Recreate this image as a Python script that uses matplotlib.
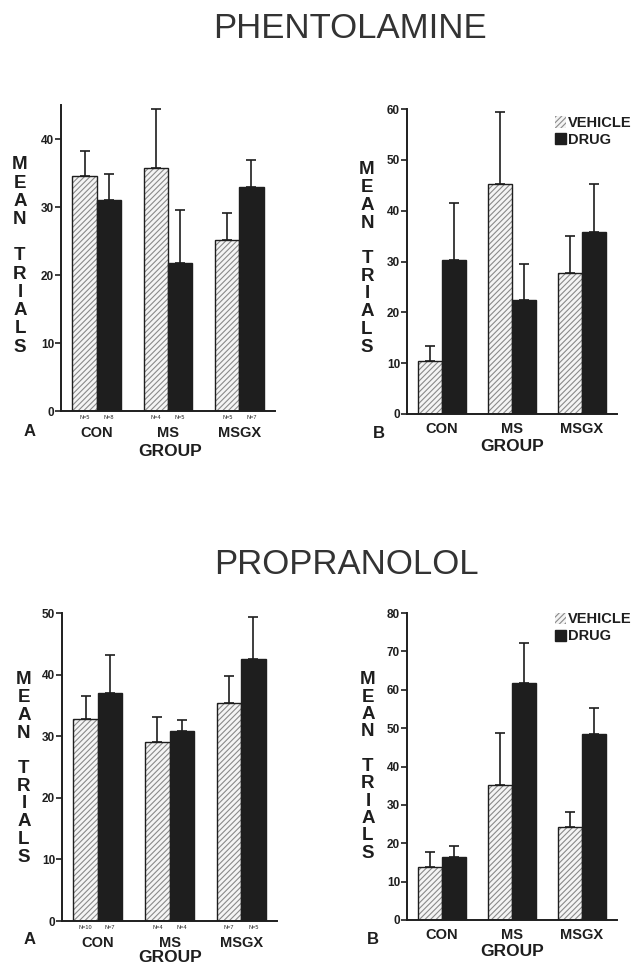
import matplotlib.pyplot as plt
import numpy as np

W, H = 642, 966

groups = ["CON", "MS", "MSGX"]

# phentolamine
phen_a_vehicle = [34.5, 35.8, 25.1]
phen_a_vehicle_err = [3.8, 8.6, 4.0]
phen_a_drug = [31.1, 21.8, 32.9]
phen_a_drug_err = [3.7, 7.8, 4.0]
phen_a_n = [("N=5", "N=8"), ("N=4", "N=5"), ("N=5", "N=7")]

phen_b_vehicle = [10.5, 45.3, 27.8]
phen_b_vehicle_err = [2.8, 14.1, 7.3]
phen_b_drug = [30.3, 22.5, 35.9]
phen_b_drug_err = [11.2, 7.0, 9.4]

# propranolol
prop_a_vehicle = [32.8, 29.0, 35.4]
prop_a_vehicle_err = [3.8, 4.1, 4.4]
prop_a_drug = [37.0, 30.9, 42.5]
prop_a_drug_err = [6.2, 1.7, 6.8]
prop_a_n = [("N=10", "N=7"), ("N=4", "N=4"), ("N=7", "N=5")]

prop_b_vehicle = [13.7, 35.3, 24.3]
prop_b_vehicle_err = [3.9, 13.4, 3.8]
prop_b_drug = [16.5, 61.8, 48.5]
prop_b_drug_err = [2.9, 10.5, 6.8]

plt.rcParams["font.family"] = ["Liberation Sans", "DejaVu Sans"]
plt.rcParams["hatch.linewidth"] = 0.8
INK = "#1e1e1e"
HATCH_BG = "#f4f4f4"
HATCH_COL = "#8a8a8a"

fig = plt.figure(figsize=(W / 100, H / 100), dpi=100)
fig.patch.set_facecolor("white")


def px_axes(l, r, b, t):
    return fig.add_axes([l / W, 1 - b / H, (r - l) / W, (b - t) / H])


def panel(ax, veh, veh_err, drug, drug_err, ymax, ystep, nlab=None, legend_y=None):
    x = np.arange(len(groups))
    w = 0.34
    # hatched vehicle bars: hatch first, then black outline
    ax.bar(x - w / 2, veh, w, color=HATCH_BG, edgecolor=HATCH_COL, hatch="//////",
           linewidth=0, zorder=2)
    ax.bar(x - w / 2, veh, w, fill=False, edgecolor=INK, linewidth=1.0, zorder=3)
    ax.bar(x + w / 2, drug, w, color=INK, edgecolor=INK, linewidth=1.0, zorder=3)
    ax.errorbar(x - w / 2, veh, yerr=[np.zeros(3), veh_err], fmt="none",
                ecolor=INK, elinewidth=1.2, capsize=3.5, capthick=1.2, zorder=1)
    ax.errorbar(x + w / 2, drug, yerr=[np.zeros(3), drug_err], fmt="none",
                ecolor=INK, elinewidth=1.2, capsize=3.5, capthick=1.2, zorder=1)
    ax.set_xlim(-0.5, 2.5)
    ax.set_ylim(0, ymax)
    ax.set_yticks(np.arange(0, ymax + 1, ystep))
    ax.tick_params(axis="y", direction="out", length=4, width=1.2, color=INK,
                   labelsize=8.5, pad=1)
    for lab in ax.get_yticklabels():
        lab.set_fontweight("bold")
        lab.set_color(INK)
    ax.set_xticks(x, groups)
    ax.tick_params(axis="x", length=0, labelsize=10.5,
                   pad=11 if nlab else 6, labelcolor=INK)
    for lab in ax.get_xticklabels():
        lab.set_fontweight("bold")
    for s in ("top", "right"):
        ax.spines[s].set_visible(False)
    for s in ("left", "bottom"):
        ax.spines[s].set_color(INK)
        ax.spines[s].set_linewidth(1.4)
    if nlab:
        for i, (a, b) in enumerate(nlab):
            ax.text(i - w / 2, -0.012, a, transform=ax.get_xaxis_transform(),
                    ha="center", va="top", fontsize=4, color=INK)
            ax.text(i + w / 2, -0.012, b, transform=ax.get_xaxis_transform(),
                    ha="center", va="top", fontsize=4, color=INK)
    if legend_y is not None:
        h1 = plt.Rectangle((0, 0), 1, 1, facecolor=HATCH_BG, edgecolor=HATCH_COL,
                           hatch="//////", linewidth=0)
        h2 = plt.Rectangle((0, 0), 1, 1, facecolor=INK, edgecolor=INK)
        leg = ax.legend([h1, h2], ["VEHICLE", "DRUG"], loc="upper left",
                        bbox_to_anchor=(0.64, legend_y), frameon=False,
                        handlelength=0.8, handleheight=0.8, handletextpad=0.1,
                        labelspacing=0.2, prop={"size": 10.5, "weight": "bold"})
        for t in leg.get_texts():
            t.set_color(INK)


def ylabel(xc, ytop, ybot):
    letters = list("MEAN") + [""] + list("TRIALS")
    ys = np.linspace(ytop, ybot, len(letters))
    for ch, y in zip(letters, ys):
        fig.text(xc / W, 1 - y / H, ch, ha="center", va="center",
                 fontsize=13.5, fontweight="bold", color=INK)


# top row
ax1 = px_axes(61, 275, 411, 105)
panel(ax1, phen_a_vehicle, phen_a_vehicle_err, phen_a_drug, phen_a_drug_err,
      45, 10, nlab=phen_a_n)
ax1.set_yticks([0, 10, 20, 30, 40])
for lab in ax1.get_yticklabels():
    lab.set_fontweight("bold")
    lab.set_color(INK)

ax2 = px_axes(407, 617, 414, 109)
panel(ax2, phen_b_vehicle, phen_b_vehicle_err, phen_b_drug, phen_b_drug_err,
      60, 10, legend_y=1.02)

# bottom row
ax3 = px_axes(62, 277, 921, 613)
panel(ax3, prop_a_vehicle, prop_a_vehicle_err, prop_a_drug, prop_a_drug_err,
      50, 10, nlab=prop_a_n)

ax4 = px_axes(407, 617, 920, 613)
panel(ax4, prop_b_vehicle, prop_b_vehicle_err, prop_b_drug, prop_b_drug_err,
      80, 10, legend_y=1.045)

ylabel(20, 165, 347)
ylabel(367, 170, 347)
ylabel(24, 680, 857)
ylabel(368, 680, 853)

# titles, group labels, panel letters
fig.text(350 / W, 1 - 28 / H, "PHENTOLAMINE", ha="center", va="center",
         fontsize=25, color="#333333")
fig.text(346 / W, 1 - 565 / H, "PROPRANOLOL", ha="center", va="center",
         fontsize=25, color="#333333")
for x, y in [(170, 452), (512, 447), (170, 958), (512, 951)]:
    fig.text(x / W, 1 - y / H, "GROUP", ha="center", va="center",
             fontsize=12.5, fontweight="bold", color=INK)
for x, y, t in [(30, 432, "A"), (379, 434, "B"), (30, 940, "A"), (373, 940, "B")]:
    fig.text(x / W, 1 - y / H, t, ha="center", va="center",
             fontsize=12, fontweight="bold", color=INK)

fig.savefig("out.png", dpi=100, facecolor="white")
